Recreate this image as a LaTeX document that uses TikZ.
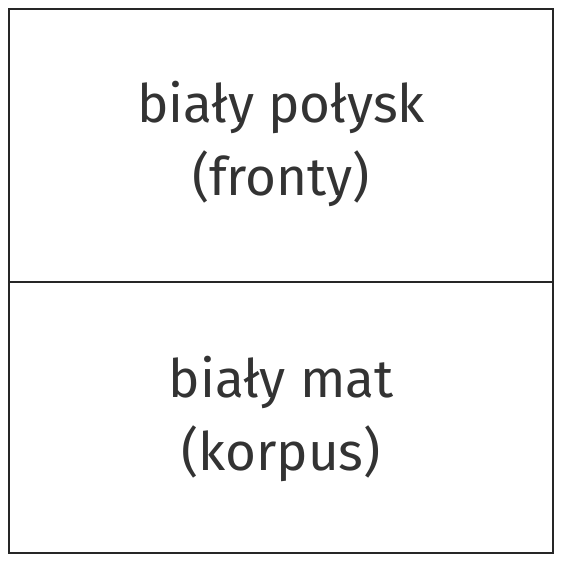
\documentclass[tikz,border=0pt]{standalone}
\usepackage{fontspec}
\setmainfont{Fira Sans}
\usepackage{tikz}

\begin{document}
\begin{tikzpicture}[x = 1pt, y = -1pt, line width = 1.6pt,
                    part/.style = {rectangle, draw = black!85, inner sep = 0pt, minimum width = 544pt},
                    caption/.style = {align = center, text = black!80, font = \fontsize{53}{73}\selectfont}]

\useasboundingbox (0,0) rectangle (563,564);

% fronty
\node [part, minimum height = 273pt] (front) at (281,145.5) {};
\node [caption] (fronttxt) at (281,144) {biały połysk \\ (fronty)};

% korpus
\node [part, minimum height = 271pt] (body) at (281,417.5) {};
\node [caption] (bodytxt) at (281,419) {biały mat \\ (korpus)};
\end{tikzpicture}
\end{document}
